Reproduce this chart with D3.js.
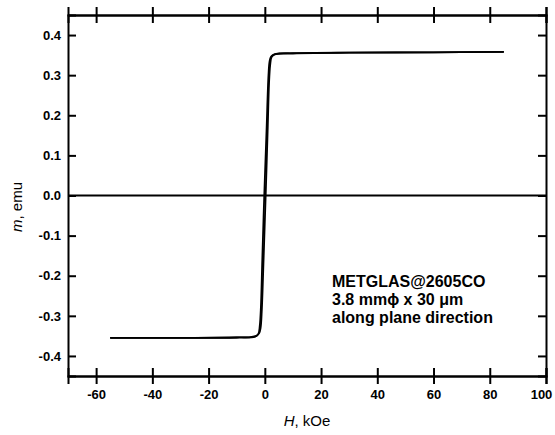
<!DOCTYPE html>
<html>
<head>
<meta charset="utf-8">
<script src="https://cdn.jsdelivr.net/npm/d3@7"></script>
<style>
  body { margin: 0; background: #fff; }
  svg { display: block; font-family: "Liberation Sans", Arial, sans-serif; }
  .tick text { font-size: 13px; font-weight: bold; fill: #000; }
</style>
</head>
<body>
<script>
// descending branch (field swept from +85 down to -55 kOe)
var descH = [85, 60, 30, 10, 5, 3, 2.2, 1.7, 1.3, 0.6, -0.2, -0.9, -1.4, -1.8, -2.3, -3.5, -10, -30, -55];
var descM = [0.358, 0.357, 0.356, 0.355, 0.354, 0.351, 0.346, 0.335, 0.30, 0.16, 0.0, -0.16, -0.28, -0.325, -0.345, -0.352, -0.354, -0.355, -0.355];
// ascending branch (field swept from -55 back up to +85 kOe)
var ascH = [-55, -30, -10, -5, -3, -2.0, -1.5, -1.1, -0.4, 0.3, 1.0, 1.5, 1.9, 2.4, 3.5, 10, 30, 60, 85];
var ascM = [-0.355, -0.355, -0.354, -0.353, -0.350, -0.343, -0.33, -0.29, -0.15, 0.0, 0.16, 0.28, 0.325, 0.345, 0.352, 0.354, 0.356, 0.357, 0.358];

var xTicks = [-60, -40, -20, 0, 20, 40, 60, 80, 100];
var yTicks = [-0.4, -0.3, -0.2, -0.1, 0.0, 0.1, 0.2, 0.3, 0.4];
var note = ['METGLAS@2605CO', '3.8 mm\u03d5 x 30 \u03bcm', 'along plane direction'];

var w = 555, h = 435;
// plot frame edges (note: "top" is reserved on window, so use pl/pr/pt/pb)
var pl = 68, pr = 546, pt = 15, pb = 376;

var x = d3.scaleLinear().domain([-70, 100]).range([pl, pr]);
var y = d3.scaleLinear().domain([-0.45, 0.45]).range([pb, pt]);

var svg = d3.select('body').append('svg')
  .attr('width', w)
  .attr('height', h);

function zip(hs, ms) {
  return hs.map((d, i) => ({ h: d, m: ms[i] }));
}

// axes: x ticks cross the frame, y ticks point inward
function styleAxis(g) {
  g.selectAll('.domain').attr('stroke', '#000').attr('stroke-width', 2);
  g.selectAll('.tick line').attr('stroke', '#000').attr('stroke-width', 2);
}

var xb = svg.append('g')
  .attr('transform', 'translate(0,' + pb + ')')
  .call(d3.axisBottom(x).tickValues(xTicks).tickSize(8).tickPadding(6).tickFormat(d => d))
  .call(styleAxis);
// last label sits on the window edge, nudge it in
xb.selectAll('.tick text').filter(d => d === 100).attr('dx', -5);

svg.append('g')
  .attr('transform', 'translate(0,' + pb + ')')
  .call(d3.axisBottom(x).tickValues(xTicks).tickSize(-8).tickFormat(''))
  .call(styleAxis);
svg.append('g')
  .attr('transform', 'translate(0,' + pt + ')')
  .call(d3.axisTop(x).tickValues(xTicks).tickSize(8).tickFormat(''))
  .call(styleAxis);
svg.append('g')
  .attr('transform', 'translate(0,' + pt + ')')
  .call(d3.axisTop(x).tickValues(xTicks).tickSize(-8).tickFormat(''))
  .call(styleAxis);
svg.append('g')
  .attr('transform', 'translate(' + pl + ',0)')
  .call(d3.axisLeft(y).tickValues(yTicks).tickSize(-8).tickFormat(d => d.toFixed(1)))
  .call(styleAxis)
  .selectAll('.tick text').attr('x', -7);
svg.append('g')
  .attr('transform', 'translate(' + pr + ',0)')
  .call(d3.axisRight(y).tickValues(yTicks).tickSize(-8).tickFormat(''))
  .call(styleAxis);

// zero line
svg.append('line')
  .attr('x1', x(-70)).attr('x2', x(100))
  .attr('y1', y(0)).attr('y2', y(0))
  .attr('stroke', '#000')
  .attr('stroke-width', 2);

var line = d3.line()
  .x(d => x(d.h))
  .y(d => y(d.m))
  .curve(d3.curveCatmullRom.alpha(0.5));

[zip(descH, descM), zip(ascH, ascM)].forEach(function (branch) {
  svg.append('path')
    .datum(branch)
    .attr('d', line)
    .attr('fill', 'none')
    .attr('stroke', '#000')
    .attr('stroke-width', 1.8);
});

// axis titles
var xt = svg.append('text')
  .attr('x', (pl + pr) / 2)
  .attr('y', 426)
  .attr('text-anchor', 'middle')
  .attr('font-size', 15);
xt.append('tspan').attr('font-style', 'italic').text('H');
xt.append('tspan').text(', kOe');

var yt = svg.append('text')
  .attr('transform', 'translate(22,207) rotate(-90)')
  .attr('text-anchor', 'middle')
  .attr('font-size', 15);
yt.append('tspan').attr('font-style', 'italic').text('m');
yt.append('tspan').text(', emu');

// sample note
svg.append('g').selectAll('text')
  .data(note)
  .enter()
  .append('text')
    .attr('x', 332)
    .attr('y', (d, i) => 287 + i * 18)
    .attr('font-size', 16)
    .attr('font-weight', 'bold')
    .text(d => d);
</script>
</body>
</html>
